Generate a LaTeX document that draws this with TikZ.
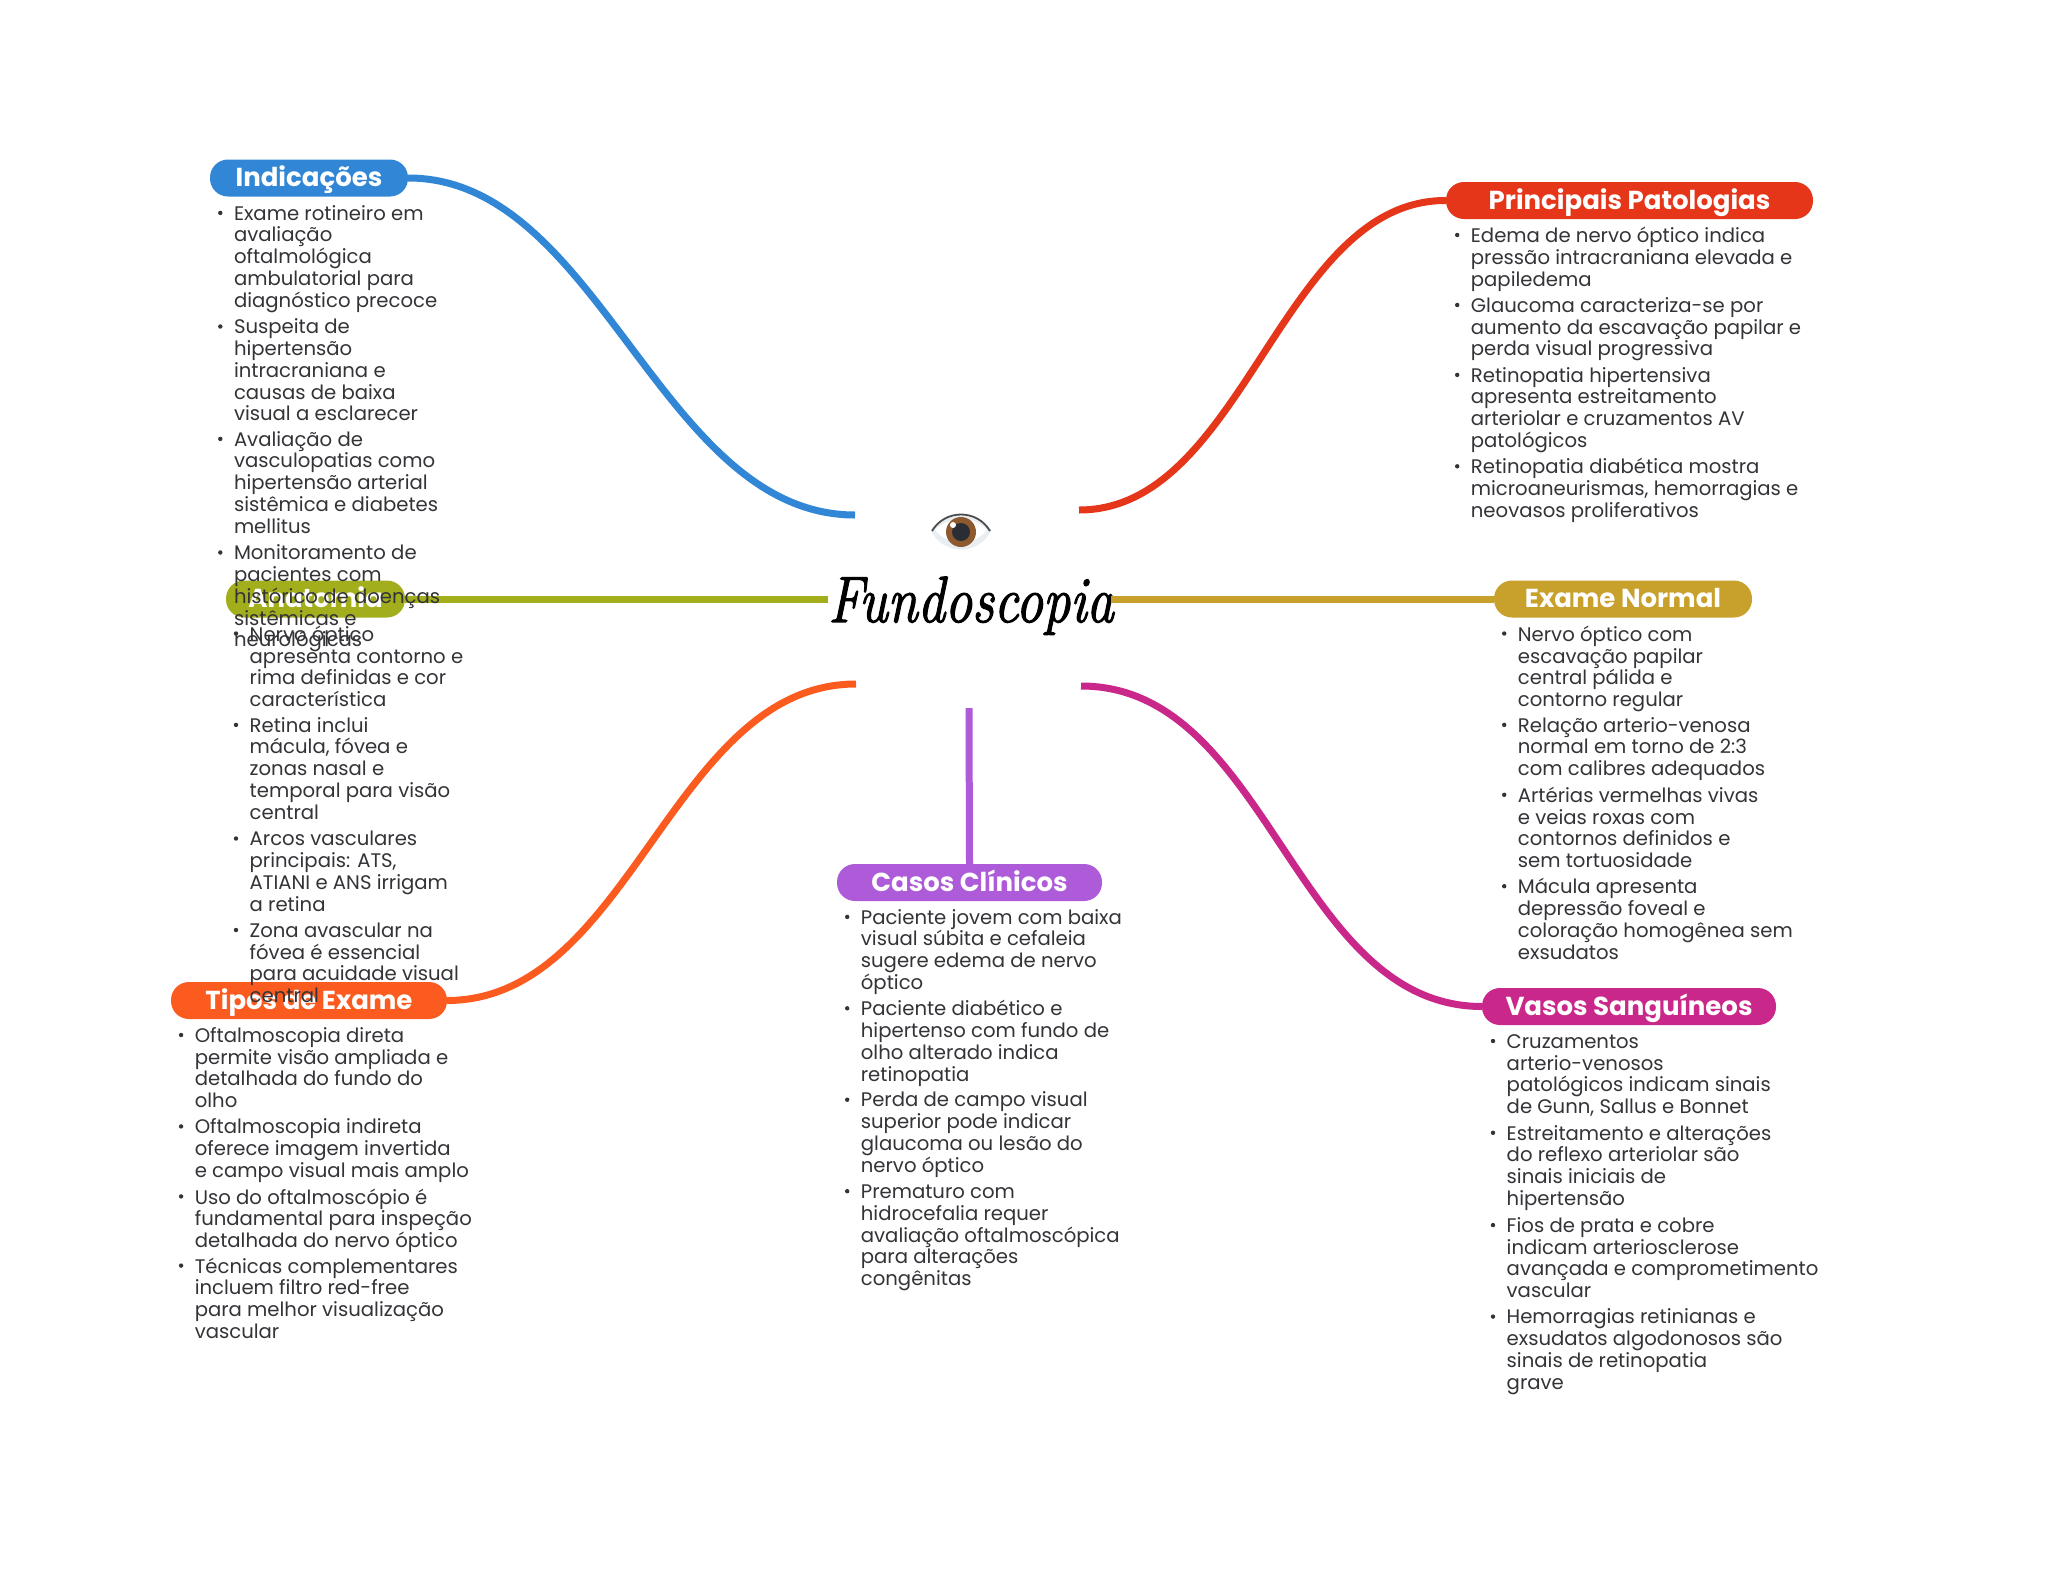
\documentclass[tikz,border=0pt]{standalone}
\usepackage{graphicx}
\usepackage{fontspec}
\setmainfont{Poppins}
\newfontfamily\titlefont[FakeBold=2]{Latin Modern Roman}
\definecolor{cBlue}{HTML}{3187D6}
\definecolor{cRed}{HTML}{E6361A}
\definecolor{cOlive}{HTML}{A2AE1C}
\definecolor{cGold}{HTML}{C8A02C}
\definecolor{cOrange}{HTML}{FB5B1E}
\definecolor{cPurple}{HTML}{AE5BD9}
\definecolor{cMagenta}{HTML}{C9288A}
\definecolor{cText}{HTML}{333338}
\definecolor{cLid}{HTML}{E9EEF3}
\definecolor{cIris}{HTML}{8C5A2E}
\definecolor{cPupil}{HTML}{2A2D33}
\tikzset{
  pill/.style={rounded corners=18pt,minimum height=37pt,inner sep=0pt,text=white,text height=21pt,text depth=4pt,font=\fontsize{26}{30}\selectfont\bfseries,anchor=center},
  itemtext/.style={anchor=north west,inner sep=0pt,align=left,text=cText,font=\fontsize{19.65}{21.8}\selectfont},
  bullet/.style={fill=cText,draw=none},
  link/.style={line width=7pt,line cap=butt}
}
\newcommand\itm[4]{%
  \node[itemtext] (#1) at (#2,#3-8) {\rule{0pt}{15pt}#4};
  \fill[bullet] ([xshift=-13.5pt,yshift=-8pt]#1.north west) circle (2.2pt);
}
\newcommand\pillnode[6]{% name, color, cx, cy, width, text
  \node[pill,fill=#2,minimum width=#5pt] (#1) at (#3,#4) {#6};
}
\begin{document}
\begin{tikzpicture}[x=1pt,y=-1pt]
\useasboundingbox (0,0) rectangle (2048,1569);
\fill[white] (0,0) rectangle (2048,1569);
% central title
\node[inner sep=0pt,anchor=base,font=\titlefont\fontsize{54.5}{56}\selectfont\itshape] (root) at (971,622) {\scalebox{1}[1.2]{Fundoscopia}};
% eye
\fill[cLid] (931,530) .. controls (945,510) and (978,510) .. (991,530) .. controls (980,556) and (942,556) .. (931,530) -- cycle;
\fill[white] (935,530) .. controls (948,516) and (975,516) .. (987,530) .. controls (975,546) and (947,546) .. (935,530) -- cycle;
\draw[line width=1.8pt,black!70] (932,531) .. controls (945,509) and (977,509) .. (990,531);
\fill[cIris] (961,532) circle (15pt);
\fill[cPupil] (961,532) circle (9pt);
\fill[white] (953,525) circle (3pt);
% free ends at the centre
\coordinate (eBlue) at (855,515);
\coordinate (eRed) at (1079,510);
\coordinate (eOlive) at (828,599);
\coordinate (eGold) at (1111,599);
\coordinate (eOrange) at (856,684);
\coordinate (eMagenta) at (1081,686);
\coordinate (ePurple) at (969,708);
% topics
\pillnode{indic}{cBlue}{309}{178}{198}{Indicações}
\pillnode{patol}{cRed}{1629.5}{200.5}{367}{Principais Patologias}
\pillnode{anat}{cOlive}{315.5}{599}{179}{Anatomia}
\pillnode{normal}{cGold}{1623}{599}{258}{Exame Normal}
\pillnode{tipos}{cOrange}{309}{1000.5}{276}{Tipos de Exame}
\pillnode{casos}{cPurple}{969.5}{882.5}{265}{Casos Clínicos}
\pillnode{vasos}{cMagenta}{1629}{1006.5}{294}{Vasos Sanguíneos}
% connectors
\draw[link,cBlue] (indic.east) .. controls (600,178) and (660,515) .. (eBlue);
\draw[link,cRed] (patol.west) .. controls (1281,200) and (1244,510) .. (eRed);
\draw[link,cOlive] (anat.east) -- (eOlive);
\draw[link,cGold] (eGold) -- (normal.west);
\draw[link,cOrange] (tipos.east) .. controls (631,1000) and (672,684) .. (eOrange);
\draw[link,cMagenta] (eMagenta) .. controls (1269,686) and (1294,1006) .. (vasos.west);
\draw[link,cPurple] (ePurple) -- (casos.north);
% Indicacoes
\itm{i1}{233.8}{212.9}{Exame rotineiro em\\avaliação\\oftalmológica\\ambulatorial para\\diagnóstico precoce}
\itm{i2}{233.8}{326.5}{Suspeita de\\hipertensão\\intracraniana e\\causas de baixa\\visual a esclarecer}
\itm{i3}{233.8}{438.9}{Avaliação de\\vasculopatias como\\hipertensão arterial\\sistêmica e diabetes\\mellitus}
\itm{i4}{233.8}{552.5}{Monitoramento de\\pacientes com\\histórico de doenças\\sistêmicas e\\neurológicas}
% Patologias
\itm{p1}{1470.7}{235}{Edema de nervo óptico indica\\pressão intracraniana elevada e\\papiledema}
\itm{p2}{1470.7}{305}{Glaucoma caracteriza-se por\\aumento da escavação papilar e\\perda visual progressiva}
\itm{p3}{1470.7}{374.9}{Retinopatia hipertensiva\\apresenta estreitamento\\arteriolar e cruzamentos AV\\patológicos}
\itm{p4}{1470.7}{466.3}{Retinopatia diabética mostra\\microaneurismas, hemorragias e\\neovasos proliferativos}
% Anatomia
\itm{a1}{249.5}{633.5}{Nervo óptico\\apresenta contorno e\\rima definidas e cor\\característica}
\itm{a2}{249.5}{724.9}{Retina inclui\\mácula, fóvea e\\zonas nasal e\\temporal para visão\\central}
\itm{a3}{249.5}{838.5}{Arcos vasculares\\principais: ATS,\\ATIANI e ANS irrigam\\a retina}
\itm{a4}{249.5}{930}{Zona avascular na\\fóvea é essencial\\para acuidade visual\\central}
% Exame Normal
\itm{n1}{1517.7}{633.5}{Nervo óptico com\\escavação papilar\\central pálida e\\contorno regular}
\itm{n2}{1517.7}{724.9}{Relação arterio-venosa\\normal em torno de 2:3\\com calibres adequados}
\itm{n3}{1517.7}{794.8}{Artérias vermelhas vivas\\e veias roxas com\\contornos definidos e\\sem tortuosidade}
\itm{n4}{1517.7}{886.2}{Mácula apresenta\\depressão foveal e\\coloração homogênea sem\\exsudatos}
% Tipos
\itm{t1}{194.6}{1035}{Oftalmoscopia direta\\permite visão ampliada e\\detalhada do fundo do\\olho}
\itm{t2}{194.6}{1126.4}{Oftalmoscopia indireta\\oferece imagem invertida\\e campo visual mais amplo}
\itm{t3}{194.6}{1196.4}{Uso do oftalmoscópio é\\fundamental para inspeção\\detalhada do nervo óptico}
\itm{t4}{194.6}{1265.6}{Técnicas complementares\\incluem filtro red-free\\para melhor visualização\\vascular}
% Casos
\itm{c1}{860.7}{916.9}{Paciente jovem com baixa\\visual súbita e cefaleia\\sugere edema de nervo\\óptico}
\itm{c2}{860.7}{1008.3}{Paciente diabético e\\hipertenso com fundo de\\olho alterado indica\\retinopatia}
\itm{c3}{860.7}{1099.7}{Perda de campo visual\\superior pode indicar\\glaucoma ou lesão do\\nervo óptico}
\itm{c4}{860.7}{1191.2}{Prematuro com\\hidrocefalia requer\\avaliação oftalmoscópica\\para alterações\\congênitas}
% Vasos
\itm{v1}{1506.5}{1041}{Cruzamentos\\arterio-venosos\\patológicos indicam sinais\\de Gunn, Sallus e Bonnet}
\itm{v2}{1506.5}{1132.8}{Estreitamento e alterações\\do reflexo arteriolar são\\sinais iniciais de\\hipertensão}
\itm{v3}{1506.5}{1225.1}{Fios de prata e cobre\\indicam arteriosclerose\\avançada e comprometimento\\vascular}
\itm{v4}{1506.5}{1316.6}{Hemorragias retinianas e\\exsudatos algodonosos são\\sinais de retinopatia\\grave}
\end{tikzpicture}
\end{document}
